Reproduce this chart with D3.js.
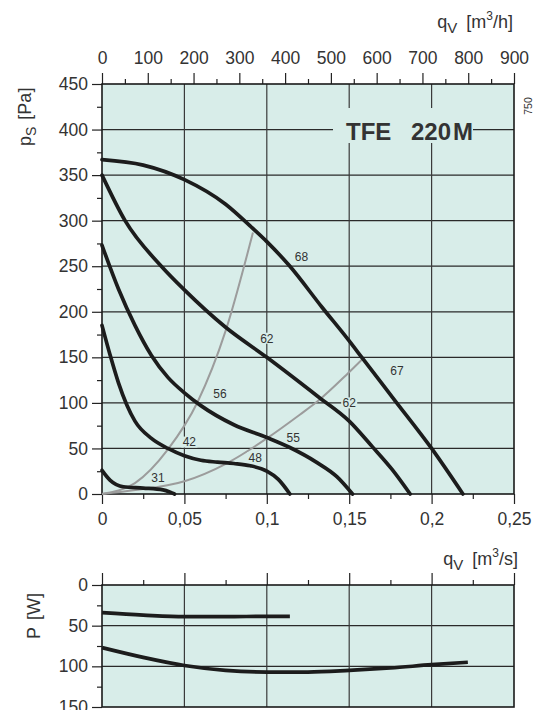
<!DOCTYPE html>
<html lang="en">
<head>
  <meta charset="UTF-8">
  <script src="https://cdn.jsdelivr.net/npm/d3@7"></script>
  <title>TFE 220M</title>
  <style>
    body { margin: 0; background: #fff; }
    text { font-family: "Liberation Sans", Arial, sans-serif; fill: #333; }
  </style>
</head>
<body>
  <svg width="538" height="710" id="chart"></svg>
  <script>
    // ---- data ----
    const flowTicks = [0, 0.05, 0.1, 0.15, 0.2, 0.25];          // m3/s
    const flowTicksH = [0, 100, 200, 300, 400, 500, 600, 700, 800, 900]; // m3/h
    const pressTicks = [0, 50, 100, 150, 200, 250, 300, 350, 400, 450];
    const powerTicks = [0, 50, 100, 150];

    // fan curves [q m3/s, ps Pa]
    const curve68 = [[0,367],[0.025,361],[0.05,345],[0.075,318],[0.09,294],[0.1,277],[0.1135,251],[0.1335,205],[0.15,168],[0.158,149],[0.178,102],[0.2,50],[0.219,0]];
    const curve62 = [[0,350],[0.014,300],[0.036,250],[0.05,224],[0.075,183],[0.1,150],[0.131,107],[0.15,80],[0.164,52],[0.176,27],[0.187,0]];
    const curve56 = [[0,273],[0.01,225],[0.02,185],[0.03,152],[0.04,128],[0.05,111],[0.06,97],[0.08,76],[0.1,62],[0.114,51],[0.13,35],[0.1425,19],[0.152,0]];
    const curve42 = [[0,185],[0.005,152],[0.01,122],[0.015,98],[0.02,80],[0.03,61],[0.04,50],[0.05,42],[0.06,37],[0.07,35],[0.08,33.5],[0.09,31],[0.1,25],[0.107,16],[0.114,0]];
    const curve31 = [[0,26],[0.005,15],[0.013,8],[0.025,6.5],[0.037,4.5],[0.042,1.5],[0.044,0]];
    // system curves
    const system1 = [[0,0],[0.02,12],[0.04,49],[0.058,101],[0.075,179],[0.0916,287]];
    const system2 = [[0,0],[0.019,4],[0.05,14],[0.076,34],[0.1,61],[0.12,87],[0.131,102],[0.149,132],[0.158,148]];
    // speed labels [q, ps, text]
    const curveLabels = [[0.121,261,"68"],[0.1,171,"62"],[0.0716,110,"56"],[0.053,57,"42"],[0.034,18,"31"],
                         [0.093,40,"48"],[0.116,62,"55"],[0.15,100,"62"],[0.179,135,"67"]];
    // power curves [q, P W]
    const powerLow = [[0,34],[0.025,37],[0.05,39],[0.075,39],[0.1,38.5],[0.114,38.5]];
    const powerHigh = [[0,77],[0.025,89],[0.05,99],[0.075,105],[0.1,107],[0.125,107],[0.15,105],[0.175,102],[0.2,98],[0.222,95]];

    const bg = "#d8ede9";
    const svg = d3.select("#chart");

    /* SCALES */
    const x = d3.scaleLinear().domain([0, 0.25]).range([102, 514]);
    const xH = d3.scaleLinear().domain([0, 900]).range([102, 514]);
    const y = d3.scaleLinear().domain([0, 450]).range([494, 84]);
    const yP = d3.scaleLinear().domain([0, 150]).range([585, 707]);

    const comma = d => String(d).replace(".", ",");

    /* MAIN CHART */
    svg.append("rect").attr("x", x(0)).attr("y", y(450))
      .attr("width", x(0.25) - x(0)).attr("height", y(0) - y(450)).attr("fill", bg);

    // grid
    svg.append("g").selectAll("line").data(pressTicks.slice(1, -1)).join("line")
      .attr("x1", x(0)).attr("x2", x(0.25)).attr("y1", d => y(d)).attr("y2", d => y(d))
      .attr("stroke", "#2a2a2a").attr("stroke-width", 1.2);
    svg.append("g").selectAll("line").data(flowTicks.slice(1, -1)).join("line")
      .attr("x1", d => x(d)).attr("x2", d => x(d)).attr("y1", y(0)).attr("y2", y(450))
      .attr("stroke", "#3a3a3a").attr("stroke-width", 1.2);

    // axes
    const styleAxis = g => {
      g.select(".domain").remove();
      g.selectAll(".tick line").attr("stroke", "#222").attr("stroke-width", 1.2);
      g.selectAll(".tick text").style("font-size", "17.5px").attr("fill", "#333");
    };
    svg.append("g").attr("transform", `translate(${x(0)},0)`)
      .call(d3.axisLeft(y).tickValues(pressTicks).tickSize(10).tickPadding(4)).call(styleAxis);
    svg.append("g").attr("transform", `translate(${x(0)},0)`)
      .call(d3.axisLeft(y).tickValues(d3.range(25, 450, 50)).tickSize(5).tickFormat("")).call(styleAxis);
    svg.append("g").attr("transform", `translate(0,${y(0)})`)
      .call(d3.axisBottom(x).tickValues(flowTicks).tickSize(10).tickPadding(9).tickFormat(comma)).call(styleAxis);
    svg.append("g").attr("transform", `translate(0,${y(0)})`)
      .call(d3.axisBottom(x).tickValues(d3.range(0.025, 0.25, 0.05)).tickSize(5).tickFormat("")).call(styleAxis);
    svg.append("g").attr("transform", `translate(0,${y(450)})`)
      .call(d3.axisTop(xH).tickValues(flowTicksH).tickSize(11).tickPadding(9)).call(styleAxis);
    svg.append("g").attr("transform", `translate(0,${y(450)})`)
      .call(d3.axisTop(xH).tickValues(d3.range(50, 900, 100)).tickSize(5).tickFormat("")).call(styleAxis);

    // frame
    svg.append("rect").attr("x", x(0)).attr("y", y(450))
      .attr("width", x(0.25) - x(0)).attr("height", y(0) - y(450))
      .attr("fill", "none").attr("stroke", "#1a1a1a").attr("stroke-width", 1.6);

    // title box
    svg.append("rect").attr("x", 333).attr("y", 108).attr("width", 140).attr("height", 35).attr("fill", bg);
    svg.append("text").attr("x", 346).attr("y", 140).text("TFE")
      .style("font-size", "24px").style("font-weight", "bold").attr("fill", "#1a1a1a");
    const t220 = svg.append("text").attr("x", 473).attr("y", 140).attr("text-anchor", "end")
      .style("font-size", "24px").style("font-weight", "bold").attr("fill", "#1a1a1a");
    t220.append("tspan").text("220");
    t220.append("tspan").attr("dx", 2).text("M");

    const line = d3.line().x(d => x(d[0])).y(d => y(d[1])).curve(d3.curveMonotoneX);

    // system curves (grey)
    svg.append("g").selectAll("path").data([system1, system2]).join("path")
      .attr("d", line).attr("fill", "none").attr("stroke", "#9c9c9c").attr("stroke-width", 2);

    // fan curves
    svg.append("g").selectAll("path").data([curve68, curve62, curve56, curve42, curve31]).join("path")
      .attr("d", line).attr("fill", "none").attr("stroke", "#1c1c1c").attr("stroke-width", 3.7)
      .attr("stroke-linecap", "round");

    // speed labels
    const lab = svg.append("g").selectAll("g").data(curveLabels).join("g")
      .attr("transform", d => `translate(${x(d[0])},${y(d[1])})`);
    lab.append("rect").attr("x", -8).attr("y", -5.5).attr("width", 16).attr("height", 11).attr("fill", bg);
    lab.append("text").attr("text-anchor", "middle").attr("dy", "0.36em")
      .style("font-size", "12px").attr("fill", "#333").text(d => d[2]);

    // axis titles
    const unitTitle = (xx, yy, unit) => {
      const t = svg.append("text").attr("x", xx).attr("y", yy).attr("text-anchor", "end")
        .style("font-size", "18px").attr("fill", "#333");
      t.append("tspan").text("q");
      t.append("tspan").attr("dy", 5).style("font-size", "15px").text("V");
      t.append("tspan").attr("dy", -5).attr("dx", 9).text("[m");
      t.append("tspan").attr("dy", -8).style("font-size", "12px").text("3");
      t.append("tspan").attr("dy", 8).text(unit);
    };
    unitTitle(513, 28, "/h]");
    unitTitle(518, 565, "/s]");

    const ps = svg.append("text").attr("transform", "translate(31,146) rotate(-90)")
      .style("font-size", "18px").attr("fill", "#333");
    ps.append("tspan").text("p");
    ps.append("tspan").attr("dy", 5).style("font-size", "14px").text("S");
    ps.append("tspan").attr("dy", -5).attr("dx", 7).text("[Pa]");

    svg.append("text").attr("transform", "translate(532,106) rotate(-90)").attr("text-anchor", "middle")
      .style("font-size", "10.5px").attr("fill", "#666").text("750");

    /* POWER CHART */
    svg.append("rect").attr("x", x(0)).attr("y", yP(0))
      .attr("width", x(0.25) - x(0)).attr("height", yP(150) - yP(0)).attr("fill", bg);
    svg.append("g").selectAll("line").data(powerTicks.slice(1, -1)).join("line")
      .attr("x1", x(0)).attr("x2", x(0.25)).attr("y1", d => yP(d)).attr("y2", d => yP(d))
      .attr("stroke", "#2a2a2a").attr("stroke-width", 1.2);
    svg.append("g").selectAll("line").data(flowTicks.slice(1, -1)).join("line")
      .attr("x1", d => x(d)).attr("x2", d => x(d)).attr("y1", yP(0)).attr("y2", yP(150))
      .attr("stroke", "#3a3a3a").attr("stroke-width", 1.2);

    svg.append("g").attr("transform", `translate(${x(0)},0)`)
      .call(d3.axisLeft(yP).tickValues(powerTicks).tickSize(10).tickPadding(4)).call(styleAxis);
    svg.append("g").attr("transform", `translate(${x(0)},0)`)
      .call(d3.axisLeft(yP).tickValues([25, 75, 125]).tickSize(5).tickFormat("")).call(styleAxis);
    svg.append("g").attr("transform", `translate(0,${yP(0)})`)
      .call(d3.axisTop(x).tickValues(flowTicks).tickSize(12).tickFormat("")).call(styleAxis);
    svg.append("g").attr("transform", `translate(0,${yP(0)})`)
      .call(d3.axisTop(x).tickValues(d3.range(0.025, 0.25, 0.05)).tickSize(5).tickFormat("")).call(styleAxis);

    svg.append("rect").attr("x", x(0)).attr("y", yP(0))
      .attr("width", x(0.25) - x(0)).attr("height", yP(150) - yP(0))
      .attr("fill", "none").attr("stroke", "#1a1a1a").attr("stroke-width", 1.6);

    const pline = d3.line().x(d => x(d[0])).y(d => yP(d[1])).curve(d3.curveMonotoneX);
    svg.append("g").selectAll("path").data([powerLow, powerHigh]).join("path")
      .attr("d", pline).attr("fill", "none").attr("stroke", "#1c1c1c").attr("stroke-width", 3.7);

    const pw = svg.append("text").attr("transform", "translate(40,639) rotate(-90)")
      .style("font-size", "18px").attr("fill", "#333");
    pw.append("tspan").text("P");
    pw.append("tspan").attr("dx", 7).text("[W]");
  </script>
</body>
</html>
